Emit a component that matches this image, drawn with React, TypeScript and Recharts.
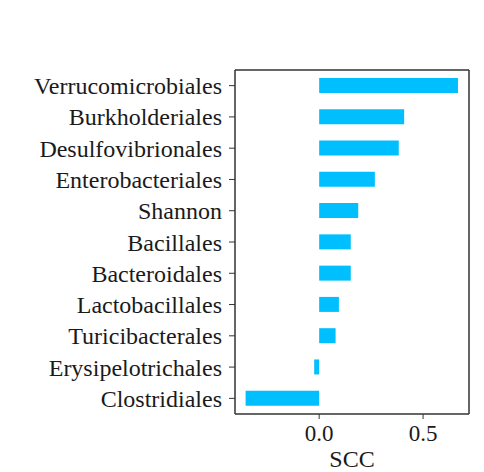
import { BarChart, Bar, XAxis, YAxis } from 'recharts'

const orders = [
  'Verrucomicrobiales',
  'Burkholderiales',
  'Desulfovibrionales',
  'Enterobacteriales',
  'Shannon',
  'Bacillales',
  'Bacteroidales',
  'Lactobacillales',
  'Turicibacterales',
  'Erysipelotrichales',
  'Clostridiales',
]
const scc = [0.668, 0.409, 0.383, 0.268, 0.188, 0.152, 0.152, 0.095, 0.079, -0.024, -0.354]
const xTicks = [0, 0.5]
const xDomain: [number, number] = [-0.405, 0.721]

const data = orders.map((name, i) => ({ name, scc: scc[i] }))

const font = "'Liberation Serif', 'Times New Roman', serif"
const frame = '#333'
const xTickStyle = { fontSize: 23, fill: '#1a1a1a', fontFamily: font }
const yTickStyle = { fontSize: 24, fill: '#1a1a1a', fontFamily: font }

export default function App() {
  return (
    <div style={{ position: 'absolute', left: 0, top: 0, width: 484, height: 472, background: '#fff', fontFamily: font }}>
      <BarChart
        width={484}
        height={472}
        data={data}
        layout="vertical"
        margin={{ top: 69, right: 14, bottom: 0, left: 0 }}
        barCategoryGap={0}
        style={{ fontFamily: font }}
      >
        <XAxis
          type="number"
          domain={xDomain}
          allowDataOverflow
          ticks={xTicks}
          tickFormatter={(v: number) => v.toFixed(1)}
          height={58}
          tick={xTickStyle}
          tickSize={5}
          tickMargin={6}
          stroke={frame}
          axisLine={{ stroke: frame, strokeWidth: 1.5 }}
          tickLine={{ stroke: frame }}
          label={{ value: 'SCC', position: 'insideBottom', offset: 5, style: { fontSize: 24, fill: '#1a1a1a', fontFamily: font } }}
        />
        <XAxis xAxisId="top" orientation="top" type="number" domain={xDomain} allowDataOverflow height={1} tick={false} tickLine={false} axisLine={{ stroke: frame, strokeWidth: 1.5 }} />
        <YAxis
          type="category"
          dataKey="name"
          width={235}
          interval={0}
          tick={yTickStyle}
          tickSize={6}
          tickMargin={7}
          axisLine={{ stroke: frame, strokeWidth: 1.5 }}
          tickLine={{ stroke: frame }}
        />
        <YAxis yAxisId="right" orientation="right" type="category" dataKey="name" width={1} tick={false} tickLine={false} axisLine={{ stroke: frame, strokeWidth: 1.5 }} />
        <Bar dataKey="scc" fill="#00BFFF" barSize={15} isAnimationActive={false} />
      </BarChart>
    </div>
  )
}
